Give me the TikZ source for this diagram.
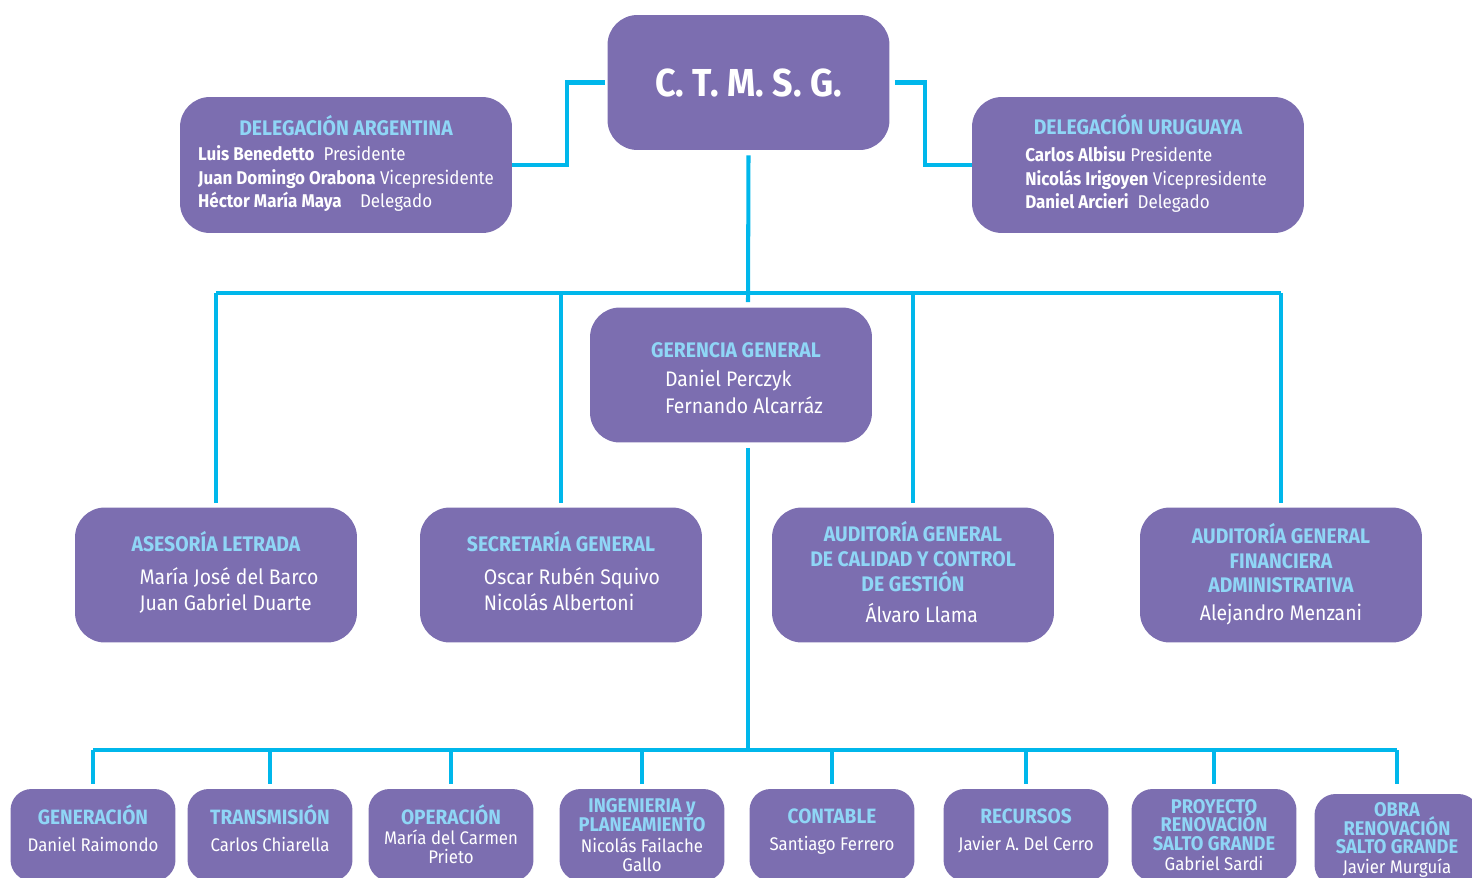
\documentclass[tikz,border=0pt]{standalone}
\usepackage{fontspec}
\setmainfont{Fira Sans}[FakeStretch=0.92]
\usepackage{tikz}
\usetikzlibrary{positioning}
\definecolor{violeta}{HTML}{7C6EB0}
\definecolor{celeste}{HTML}{8FD6F6}
\definecolor{linea}{HTML}{00B7EB}
\newcommand{\apretado}{\lineskiplimit=-20pt\relax}
\tikzset{caja/.style={
    fill=violeta,
    text=white,
    rounded corners=17pt,
    minimum width=5.64cm,
    minimum height=2.7cm,
    inner sep=0pt,
    align=center,
    font=\fontsize{12}{14.9}\selectfont}}
\tikzset{auditoria/.style={
    caja,
    font=\fontsize{12}{14.2}\selectfont\apretado}}
\tikzset{delegacion/.style={
    caja,
    minimum width=6.64cm,
    minimum height=2.72cm,
    font=\fontsize{10.5}{13.5}\selectfont}}
\tikzset{cajita/.style={
    caja,
    rounded corners=12pt,
    minimum width=3.3cm,
    minimum height=1.84cm,
    font=\fontsize{10.4}{10.4}\selectfont\apretado}}
\tikzset{enlace/.style={
    draw=linea,
    line width=2.3pt}}
\newcommand{\titulo}[1]{{\fontsize{12}{14}\selectfont\bfseries\color{celeste}#1}}
\newcommand{\titulito}[1]{{\fontsize{11.3}{10.4}\selectfont\bfseries\color{celeste}#1}}
\newcommand{\titulon}[1]{{\fontsize{11.8}{10.4}\selectfont\bfseries\color{celeste}#1}}
\newcommand{\bajo}[1]{\rule[-#1]{0pt}{0pt}}

\begin{document}
\begin{tikzpicture}[x=0.02cm,y=-0.02cm]
\useasboundingbox (0,0) rectangle (1472,877);
\clip (0,0) rectangle (1472,877);

\node[caja,font=\fontsize{22.2}{26}\selectfont\bfseries] (ctmsg) at (748.5,82.5) {C. T. M. S. G.};

\node[delegacion] (arg) at (346,165) {\titulo{DELEGACIÓN ARGENTINA}\\[1pt]
  \begin{tabular}[t]{@{}l@{}}
  \textbf{Luis Benedetto}\ \ Presidente\\
  \textbf{Juan Domingo Orabona} Vicepresidente\\
  \textbf{Héctor María Maya}\quad Delegado
  \end{tabular}};
\node[delegacion] (uru) at (1138,165) {\titulo{DELEGACIÓN URUGUAYA}\\[2pt]
  \hspace*{0.32cm}\begin{tabular}[t]{@{}l@{}}
  \textbf{Carlos Albisu} Presidente\\
  \textbf{Nicolás Irigoyen} Vicepresidente\\
  \textbf{Daniel Arcieri}\ \ Delegado
  \end{tabular}};

\node[caja] (gerencia) at (731,375) {\rule{0pt}{16pt}\hspace*{0.2cm}\titulo{GERENCIA GENERAL}\\[2pt]
  \hspace*{0.52cm}\begin{tabular}[t]{@{}l@{}}Daniel Perczyk\\Fernando Alcarráz\end{tabular}};

\node[caja] (ases) at (216,575) {\titulo{ASESORÍA LETRADA}\\[4pt]
  \hspace*{0.52cm}\begin{tabular}[t]{@{}l@{}}María José del Barco\\Juan Gabriel Duarte\end{tabular}};
\node[caja] (secre) at (561,575) {\titulo{SECRETARÍA GENERAL}\\[4pt]
  \hspace*{0.44cm}\begin{tabular}[t]{@{}l@{}}Oscar Rubén Squivo\\Nicolás Albertoni\end{tabular}};
\node[auditoria] (audcal) at (913,575) {\titulo{AUDITORÍA GENERAL}\\\titulo{DE CALIDAD Y CONTROL}\\\titulo{DE GESTIÓN}\\[3.5pt]
  \hspace*{0.35cm}Álvaro Llama\bajo{3pt}};
\node[auditoria] (audfin) at (1281,575) {\titulo{AUDITORÍA GENERAL}\\\titulo{FINANCIERA}\\\titulo{ADMINISTRATIVA}\\[1.2pt]
  Alejandro Menzani\bajo{4pt}};

\node[cajita] (gen) at (93,835) {\titulon{GENERACIÓN}\\[5pt]Daniel Raimondo\bajo{8pt}};
\node[cajita] (trans) at (270,835) {\titulon{TRANSMISIÓN}\\[5pt]Carlos Chiarella\bajo{8pt}};
\node[cajita] (oper) at (451,835) {\titulon{OPERACIÓN}\\[1pt]María del Carmen\\Prieto\bajo{1pt}};
\node[cajita] (ing) at (642,835) {\titulito{INGENIERIA y}\\\titulito{PLANEAMIENTO}\\[2pt]Nicolás Failache\\Gallo\bajo{0pt}};
\node[cajita] (cont) at (832,835) {\titulon{CONTABLE}\\[5pt]Santiago Ferrero\bajo{6pt}};
\node[cajita] (rec) at (1026,835) {\titulon{RECURSOS}\\[5pt]Javier A. Del Cerro\bajo{6pt}};
\node[cajita] (proy) at (1214,835) {\titulito{PROYECTO}\\\titulito{RENOVACIÓN}\\\titulito{SALTO GRANDE}\\[1pt]Gabriel Sardi};
\node[cajita] (obra) at (1397,840) {\titulito{OBRA}\\\titulito{RENOVACIÓN}\\\titulito{SALTO GRANDE}\\[1pt]Javier Murguía};

\coordinate (codoA) at (567,120);
\coordinate (codoU) at (925,120);
\coordinate (bus1) at (748,293);
\coordinate (bus2) at (748,750);

\draw[enlace] ([xshift=-0.04cm]ctmsg.west) -| (codoA) |- (arg.east);
\draw[enlace] ([xshift=0.1cm]ctmsg.east) -| (codoU) |- (uru.west);
\draw[enlace] ([yshift=-0.1cm]ctmsg.south) -- ([yshift=0.1cm]bus1 |- gerencia.north);
\draw[enlace] (ases.north |- bus1) -- (audfin.north |- bus1);
\foreach \n in {ases,secre,audcal,audfin}
  \draw[enlace] (\n.north |- bus1) -- ([yshift=0.08cm]\n.north);

\draw[enlace] ([yshift=-0.1cm]bus2 |- gerencia.south) -- (bus2);
\draw[enlace] (gen.north |- bus2) -- (obra.north |- bus2);
\foreach \n in {gen,trans,oper,ing,cont,rec,proy}
  \draw[enlace] (\n.north |- bus2) -- ([yshift=0.1cm]\n.north);
\draw[enlace] (obra.north |- bus2) -- ([yshift=0.2cm]obra.north);
\end{tikzpicture}
\end{document}
